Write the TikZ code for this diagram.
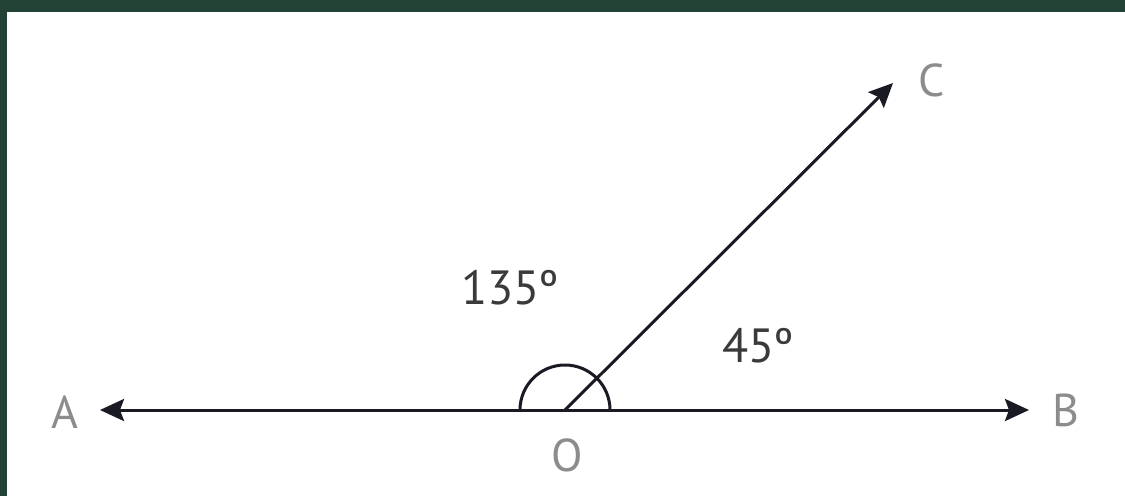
\documentclass[tikz,border=0pt]{standalone}
\usepackage{fontspec}
\setmainfont{PT Sans}
\usetikzlibrary{arrows.meta}
\definecolor{frame}{HTML}{234236}
\definecolor{ink}{HTML}{1A1A24}
\definecolor{lbl}{HTML}{8C8C8C}
\definecolor{deg}{HTML}{3A3A3A}
\tikzset{
  ray/.style={draw=ink, line width=3pt, -{Stealth[length=24pt,width=22pt,inset=4pt]}},
  pointlbl/.style={text=lbl, font=\fontsize{46}{50}\selectfont, inner sep=0pt},
  anglelbl/.style={text=deg, font=\fontsize{48}{52}\selectfont, inner sep=0pt},
}
\begin{document}
\begin{tikzpicture}[x=1pt,y=-1pt]
\useasboundingbox (0,0) rectangle (1125,496);
\fill[white] (0,0) rectangle (1125,496);
\fill[frame] (0,0) rectangle (1125,12);
\fill[frame] (0,0) rectangle (7,496);
\coordinate (O) at (565,410);
\coordinate (Atip) at (100,410);
\coordinate (Btip) at (1029,410);
\coordinate (Ctip) at (893,83);
\draw[ray] (O) -- (Atip);
\draw[ray] (O) -- (Btip);
\draw[ray] (O) -- (Ctip);
\draw[ink, line width=3pt] (610,410) arc[start angle=0, end angle=-180, radius=45];
\node[pointlbl] (A) at (65,412) {A};
\node[pointlbl] (B) at (1066,410) {B};
\node[pointlbl] (C) at (932,80) {C};
\node[pointlbl] (Olbl) at (567,455) {O};
\node[anglelbl] (a135) at (510,288) {135º};
\node[anglelbl] (a45) at (758,346) {45º};
\end{tikzpicture}
\end{document}
